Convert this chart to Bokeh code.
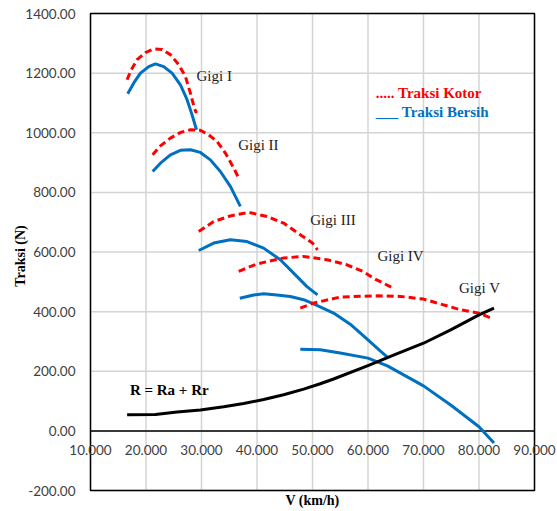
from math import pi
from bokeh.plotting import figure
from bokeh.models import Label, Range1d
from bokeh.core.properties import value
from bokeh.embed import file_html
from bokeh.resources import INLINE

# ---- data ----
x_ticks = [10, 20, 30, 40, 50, 60, 70, 80, 90]
x_labels = ["10.000", "20.000", "30.000", "40.000", "50.000", "60.000", "70.000", "80.000", "90.000"]
y_ticks = [-200, 0, 200, 400, 600, 800, 1000, 1200, 1400]
y_labels = ["-200.00", "0.00", "200.00", "400.00", "600.00", "800.00", "1000.00", "1200.00", "1400.00"]

g1_kotor_v = [16.6, 17.2, 18.4, 19.9, 21.4, 22.9, 24.4, 25.9, 27.1, 28.0, 28.7, 29.1]
g1_kotor_f = [1178, 1206, 1245, 1269, 1281, 1279, 1262, 1228, 1189, 1133, 1083, 1066]
g1_bersih_v = [16.7, 17.8, 19.0, 20.5, 21.7, 23.2, 24.7, 26.2, 27.4, 28.3, 29.1]
g1_bersih_f = [1131, 1167, 1200, 1222, 1231, 1222, 1200, 1161, 1111, 1060, 1010]

g2_kotor_v = [21.2, 22.6, 24.4, 26.2, 28.0, 29.8, 31.3, 32.8, 34.3, 35.8, 36.7]
g2_kotor_f = [926, 956, 982, 1001, 1010, 1008, 993, 971, 932, 882, 848]
g2_bersih_v = [21.2, 22.6, 24.4, 26.2, 28.0, 29.8, 31.6, 33.4, 35.2, 37.0]
g2_bersih_f = [870, 898, 926, 941, 943, 934, 909, 870, 820, 753]

g3_kotor_v = [29.5, 32.2, 35.2, 38.5, 41.8, 44.8, 47.8, 50.0, 50.9]
g3_kotor_f = [669, 702, 721, 733, 719, 697, 658, 630, 607]
g3_bersih_v = [29.5, 32.2, 35.2, 38.2, 41.2, 44.2, 46.6, 49.0, 50.9]
g3_bersih_f = [605, 630, 641, 635, 613, 574, 529, 484, 456]

g4_kotor_v = [36.7, 40.0, 44.8, 48.4, 52.6, 56.2, 59.2, 61.0, 64.2]
g4_kotor_f = [535, 560, 580, 585, 574, 557, 534, 512, 482]
g4_bersih_v = [36.9, 39.4, 41.2, 43.6, 46.0, 48.4, 50.2, 53.8, 56.8, 60.0, 62.2, 63.7]
g4_bersih_f = [445, 456, 460, 456, 451, 440, 426, 395, 358, 305, 268, 244]

g5_kotor_v = [47.8, 50.1, 55.0, 61.7, 65.9, 70.0, 76.7, 80.0, 82.6]
g5_kotor_f = [412, 428, 449, 453, 451, 442, 406, 395, 375]
g5_bersih_v = [47.8, 51.4, 55.0, 60.0, 63.5, 70.0, 74.9, 80.0, 82.7]
g5_bersih_f = [274, 272, 261, 244, 218, 151, 87, 14, -41]

r_v = [16.6, 21.7, 25.6, 29.8, 34.0, 37.6, 41.2, 44.8, 48.4, 51.4, 53.8, 60.0, 64.6, 70.0, 74.9, 80.0, 82.7]
r_f = [54, 55, 63, 70, 81, 92, 105, 121, 140, 158, 174, 219, 254, 294, 339, 389, 412]

gear_names = ["Gigi I", "Gigi II", "Gigi III", "Gigi IV", "Gigi V"]

RED = "#FF0000"
BLUE = "#0070C0"
GRID = "#d4d4d4"
TICK = "#404040"
SERIF = "Liberation Serif"
SANS = "Lato"

# Page geometry: plot area spans px 90..534 (x) and 13..490 (y) in a 557x511 canvas.
W, H = 557, 511
PL, PR, PT, PB = 90, 534, 13, 490
x0, x1 = x_ticks[0], x_ticks[-1]
y0, y1 = y_ticks[0], y_ticks[-1]
sx = (PR - PL) / (x1 - x0)
sy = (PB - PT) / (y1 - y0)

p = figure(width=W, height=H,
           x_range=Range1d(x0 - PL / sx, x1 + (W - PR) / sx),
           y_range=Range1d(y0 - (H - PB) / sy, y1 + PT / sy),
           x_axis_location=None, y_axis_location=None,
           output_backend="svg", toolbar_location=None, min_border=0)
p.outline_line_color = None
p.grid.visible = False
p.background_fill_color = "white"
p.border_fill_color = "white"

# gridlines (Excel style)
p.segment(x0=x_ticks, y0=y0, x1=x_ticks, y1=y1, line_color=GRID, line_width=1.5)
p.segment(x0=x0, y0=y_ticks, x1=x1, y1=y_ticks, line_color=GRID, line_width=1.5)
# plot-area border and the zero line (the x axis crosses at 0)
p.quad(left=x0, right=x1, bottom=y0, top=y1, fill_color=None, line_color="black", line_width=1.5)
p.segment(x0=x0, y0=0, x1=x1, y1=0, line_color="black", line_width=1.5)

# tick labels
p.text(x=x0, y=y_ticks, text=y_labels, x_offset=-15, text_align="right", text_baseline="middle",
       text_font=value(SANS), text_font_size="13.5px", text_color=TICK)
p.text(x=x_ticks, y=0, text=x_labels, y_offset=19, text_align="center", text_baseline="middle",
       text_font=value(SANS), text_font_size="13.5px", text_color=TICK)

# axis titles
p.add_layout(Label(x=x0, y=(y0 + y1) / 2, x_offset=-70, y_offset=-4, text="Traksi (N)", angle=pi / 2,
                   text_align="center", text_baseline="middle", text_font=SERIF,
                   text_font_size="14px", text_font_style="bold", text_color="black"))
p.add_layout(Label(x=(x0 + x1) / 2, y=y0, y_offset=-10, text="V (km/h)",
                   text_align="center", text_baseline="middle", text_font=SERIF,
                   text_font_size="14px", text_font_style="bold", text_color="black"))

# curves
kotor = [(g1_kotor_v, g1_kotor_f), (g2_kotor_v, g2_kotor_f), (g3_kotor_v, g3_kotor_f),
         (g4_kotor_v, g4_kotor_f), (g5_kotor_v, g5_kotor_f)]
bersih = [(g1_bersih_v, g1_bersih_f), (g2_bersih_v, g2_bersih_f), (g3_bersih_v, g3_bersih_f),
          (g4_bersih_v, g4_bersih_f), (g5_bersih_v, g5_bersih_f)]
for xs, ys in bersih:
    p.line(xs, ys, line_color=BLUE, line_width=3, line_join="round")
for xs, ys in kotor:
    p.line(xs, ys, line_color=RED, line_width=3, line_dash="7 4")
p.line(r_v, r_f, line_color="black", line_width=3, line_join="round")

# gear labels
gear_pos = [(29.1, 1191), (36.6, 960), (49.6, 706), (61.7, 587), (76.4, 479)]
for name, (gx, gy) in zip(gear_names, gear_pos):
    p.add_layout(Label(x=gx, y=gy, text=name, text_align="left", text_baseline="middle",
                       text_font=SERIF, text_font_size="15px", text_color="#222222"))

p.add_layout(Label(x=17.1, y=138, text="R = Ra + Rr", text_align="left", text_baseline="middle",
                   text_font=SERIF, text_font_size="15px", text_font_style="bold", text_color="black"))

# legend-like texts
p.add_layout(Label(x=61.4, y=1134, text="..... Traksi Kotor", text_align="left", text_baseline="middle",
                   text_font=SERIF, text_font_size="15px", text_font_style="bold", text_color=RED))
p.add_layout(Label(x=61.4, y=1070, text="___ Traksi Bersih", text_align="left", text_baseline="middle",
                   text_font=SERIF, text_font_size="15px", text_font_style="bold", text_color=BLUE))

open("out.html", "w").write(file_html(p, INLINE))
